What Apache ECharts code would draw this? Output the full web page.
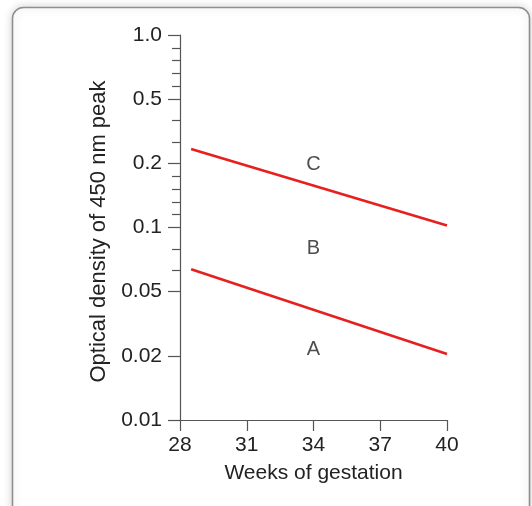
<!DOCTYPE html>
<html>
<head>
<meta charset="utf-8">
<script src="https://cdn.jsdelivr.net/npm/echarts@6/dist/echarts.min.js"></script>
<style>
html,body{margin:0;padding:0;background:#fff;}
#chart{width:532px;height:506px;}
</style>
</head>
<body>
<div id="chart"></div>
<script>
// ---- data ----
const weeks = [28.5, 40];
const upperBoundary = [0.267, 0.103];   // B/C line
const lowerBoundary = [0.0674, 0.0209]; // A/B line
const zoneNames = ['A', 'B', 'C'];
const zoneWeeks = [34, 34, 34];
const zoneValues = [0.0228, 0.0833, 0.1975];
const yTickValues = [0.01, 0.02, 0.05, 0.1, 0.2, 0.5, 1.0];
const yTickLabels = ['0.01', '0.02', '0.05', '0.1', '0.2', '0.5', '1.0'];
const yMinorDivisions = [1, 1, 3, 5, 3, 5];
const xTicks = [28, 31, 34, 37, 40];

// piecewise scale: each labelled tick is one unit apart
function toUnit(v) {
  for (let i = 0; i < yTickValues.length - 1; i++) {
    const a = yTickValues[i], b = yTickValues[i + 1];
    if (v <= b || i === yTickValues.length - 2) {
      return i + (v - a) / (b - a);
    }
  }
}
const SUB = 15;
const nSeg = yTickValues.length - 1;
const minorCats = [];
for (let i = 0; i <= nSeg * SUB; i++) minorCats.push(String(i));

const textColor = '#222';
const axisColor = '#555';
const red = '#e5201f';
const font = 'Liberation Sans, Arial';

const chart = echarts.init(document.getElementById('chart'));
chart.setOption({
  animation: false,
  backgroundColor: 'transparent',
  graphic: [{
    type: 'rect', z: -10,
    shape: { x: 12.5, y: 7.5, width: 517, height: 530, r: 11 },
    style: { fill: '#fff', stroke: '#8f8f8f', lineWidth: 1.6,
             shadowBlur: 10, shadowColor: 'rgba(0,0,0,0.18)' }
  }],
  grid: { left: 180, right: 85, top: 35, bottom: 86 },
  xAxis: {
    type: 'value', min: xTicks[0], max: xTicks[xTicks.length - 1], interval: 3,
    name: 'Weeks of gestation', nameLocation: 'middle', nameGap: 43,
    nameTextStyle: { fontFamily: font, fontSize: 21, color: textColor },
    axisLine: { show: true, lineStyle: { color: axisColor, width: 1.2 } },
    axisTick: { show: true, length: 11, lineStyle: { color: axisColor, width: 1.2 } },
    axisLabel: { margin: 15, fontFamily: font, fontSize: 21, color: textColor },
    splitLine: { show: false }
  },
  yAxis: [{
    type: 'value', min: 0, max: nSeg, interval: 1,
    name: 'Optical density of 450 nm peak', nameLocation: 'middle', nameGap: 66,
    nameTextStyle: { fontFamily: font, fontSize: 22, color: textColor, padding: [0, 8, 0, 0] },
    axisLine: { show: true, lineStyle: { color: axisColor, width: 1.2 } },
    axisTick: { show: true, length: 12, lineStyle: { color: axisColor, width: 1.2 } },
    axisLabel: { margin: 18, fontFamily: font, fontSize: 21, color: textColor,
                 formatter: v => yTickLabels[Math.round(v)] },
    splitLine: { show: false }
  }, {
    type: 'category', data: minorCats, boundaryGap: false, position: 'left',
    axisLine: { show: false },
    axisLabel: { show: false },
    axisTick: {
      show: true, length: 8, lineStyle: { color: axisColor, width: 1.2 },
      interval: function (index) {
        const seg = Math.floor(index / SUB);
        const r = index % SUB;
        if (r === 0 || seg >= nSeg) return false;
        return r % (SUB / yMinorDivisions[seg]) === 0;
      }
    },
    splitLine: { show: false }
  }],
  series: [{
    type: 'line', yAxisIndex: 0, symbol: 'none',
    lineStyle: { color: red, width: 2.6 },
    data: weeks.map((w, i) => [w, toUnit(upperBoundary[i])])
  }, {
    type: 'line', yAxisIndex: 0, symbol: 'none',
    lineStyle: { color: red, width: 2.6 },
    data: weeks.map((w, i) => [w, toUnit(lowerBoundary[i])])
  }, {
    type: 'scatter', yAxisIndex: 0, symbolSize: 0, silent: true,
    label: { show: true, position: 'inside', formatter: p => p.data[2],
             fontFamily: font, fontSize: 20, color: textColor },
    data: zoneNames.map((n, i) => [zoneWeeks[i], toUnit(zoneValues[i]), n])
  }]
});
</script>
</body>
</html>
